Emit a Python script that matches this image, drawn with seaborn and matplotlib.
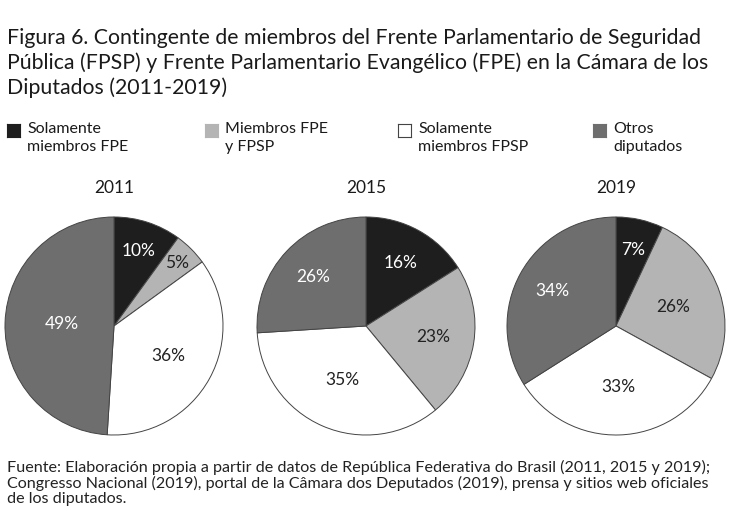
import matplotlib
matplotlib.use("Agg")
import matplotlib.pyplot as plt
import seaborn as sns
import numpy as np

# ---- data ----
years = ["2011", "2015", "2019"]
categories = ["Solamente\nmiembros FPE", "Miembros FPE\ny FPSP", "Solamente\nmiembros FPSP", "Otros\ndiputados"]
values_2011 = [10, 5, 36, 49]
values_2015 = [16, 23, 35, 26]
values_2019 = [7, 26, 33, 34]
all_values = [values_2011, values_2015, values_2019]

title = ("Figura 6. Contingente de miembros del Frente Parlamentario de Seguridad\n"
         "Pública (FPSP) y Frente Parlamentario Evangélico (FPE) en la Cámara de los\n"
         "Diputados (2011-2019)")
source = ("Fuente: Elaboración propia a partir de datos de República Federativa do Brasil (2011, 2015 y 2019);\n"
          "Congresso Nacional (2019), portal de la Câmara dos Deputados (2019), prensa y sitios web oficiales\n"
          "de los diputados.")

# ---- style ----
sns.set_theme(style="white")
plt.rcParams['font.family'] = ['Lato', 'DejaVu Sans']
colors = ["#1e1e1e", "#b4b4b4", "#ffffff", "#6e6e6e"]
label_colors = ["white", "#222222", "#222222", "white"]
label_dist = [[0.72, 0.82, 0.57, 0.48],
              [0.66, 0.62, 0.54, 0.66],
              [0.71, 0.55, 0.56, 0.67]]
text_color = "#1a1a1a"

W, H = 730, 531
fig = plt.figure(figsize=(W / 100, H / 100), dpi=100)
fig.patch.set_facecolor("white")

def px(x, y):
    return x / W, 1 - y / H

# title
fig.text(*px(7, 28), title, ha="left", va="top", fontsize=15.3, color=text_color,
         linespacing=1.27)

# legend
leg_x = [7, 205, 398, 593]
for i, (cat, c) in enumerate(zip(categories, colors)):
    sq = fig.add_axes([leg_x[i] / W, 1 - 137 / H, 13 / W, 13 / H])
    sq.set_xticks([]); sq.set_yticks([])
    sq.set_facecolor(c)
    for s in sq.spines.values():
        s.set_color("#444444" if c == "#ffffff" else c)
        s.set_linewidth(0.8)
    fig.text(*px(leg_x[i] + 20, 122), cat, ha="left", va="top", fontsize=11.5,
             color=text_color, linespacing=1.33)

# pies
centers = [114, 366, 616]
radius = 109
cy = 326
for yr, vals, cx, dists in zip(years, all_values, centers, label_dist):
    ax = fig.add_axes([(cx - radius) / W, 1 - (cy + radius) / H, 2 * radius / W, 2 * radius / H])
    wedges, texts = ax.pie(
        vals, colors=colors, startangle=90, counterclock=False,
        wedgeprops=dict(edgecolor="#444444", linewidth=0.7))
    for w, v, lc, d in zip(wedges, vals, label_colors, dists):
        ang = np.deg2rad((w.theta1 + w.theta2) / 2)
        ax.text(d * np.cos(ang), d * np.sin(ang), f"{v}%", ha="center", va="center",
                fontsize=12.5, color=lc)
    ax.set_aspect("equal")
    ax.set_xlim(-1.0, 1.0); ax.set_ylim(-1.0, 1.0)
    fig.text(*px(cx, 188), yr, ha="center", va="center", fontsize=12.5,
             color=text_color)

# source
fig.text(*px(7, 460), source, ha="left", va="top", fontsize=11.6, color="#222222",
         linespacing=1.06)

fig.savefig("out.png", dpi=100, facecolor="white")
